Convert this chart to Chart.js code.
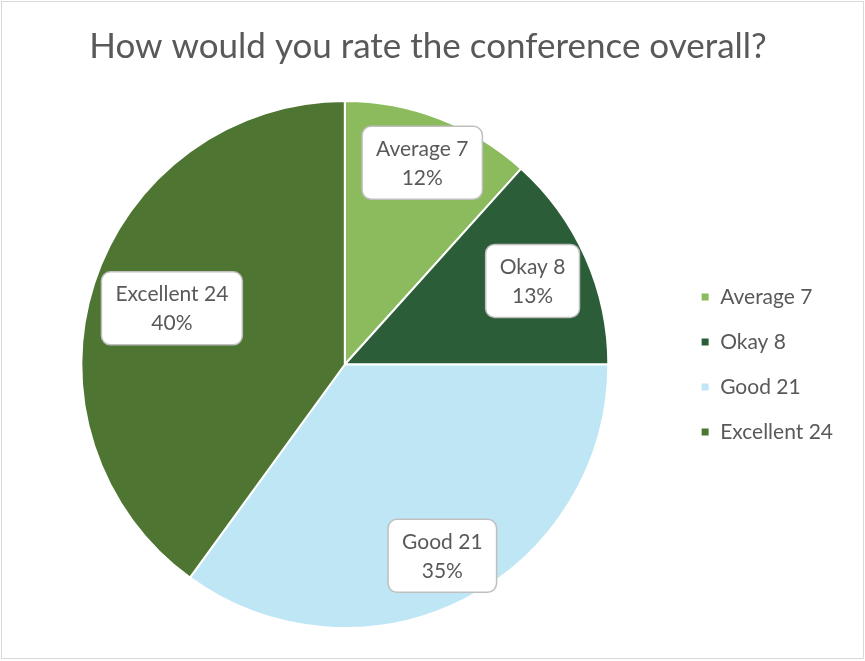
<!DOCTYPE html>
<html>
<head>
<meta charset="utf-8">
<script src="https://cdn.jsdelivr.net/npm/chart.js@4"></script>
<style>
  html, body { margin: 0; padding: 0; background: #fff; }
  #wrap { width: 865px; height: 661px; }
</style>
</head>
<body>
<div id="wrap"><canvas id="chart" width="865" height="661"></canvas></div>
<script>
// Survey answers
const ratings = ['Average', 'Okay', 'Good', 'Excellent'];
const responses = [7, 8, 21, 24];
const sliceColors = ['#8BBB5D', '#2B5E38', '#BFE6F4', '#4F7532'];

const TEXT_COLOR = '#595959';
const FONT = 'Lato, "Liberation Sans", sans-serif';

const total = responses.reduce((a, b) => a + b, 0);
const legendLabels = ratings.map((r, i) => r + ' ' + responses[i]);

// how far out (fraction of radius) each callout sits
const calloutRadius = [0.82, 0.78, 0.815, 0.69];

// rounded white callouts with name, count and share
const calloutPlugin = {
    id: 'callouts',
    afterDatasetsDraw(chart) {
        const ctx = chart.ctx;
        const arcs = chart.getDatasetMeta(0).data;
        ctx.save();
        ctx.font = '21px ' + FONT;
        ctx.textAlign = 'center';
        ctx.textBaseline = 'middle';
        arcs.forEach((arc, i) => {
            const mid = (arc.startAngle + arc.endAngle) / 2;
            const r = arc.outerRadius * calloutRadius[i];
            const cx = arc.x + Math.cos(mid) * r;
            const cy = arc.y + Math.sin(mid) * r;
            const line1 = legendLabels[i];
            const line2 = Math.round(responses[i] / total * 100) + '%';
            const w = Math.max(ctx.measureText(line1).width, ctx.measureText(line2).width) + 28;
            const h = 73;
            ctx.beginPath();
            ctx.roundRect(cx - w / 2, cy - h / 2, w, h, 9);
            ctx.fillStyle = '#FFFFFF';
            ctx.fill();
            ctx.lineWidth = 1.5;
            ctx.strokeStyle = '#BFBFBF';
            ctx.stroke();
            ctx.fillStyle = TEXT_COLOR;
            ctx.fillText(line1, cx, cy - 14);
            ctx.fillText(line2, cx, cy + 15);
        });
        ctx.restore();
    }
};

// thin grey frame around the chart
const framePlugin = {
    id: 'frame',
    afterDraw(chart) {
        const ctx = chart.ctx;
        ctx.save();
        ctx.strokeStyle = '#D9D9D9';
        ctx.lineWidth = 1;
        ctx.strokeRect(1.5, 1.5, chart.width - 3, chart.height - 4);
        ctx.restore();
    }
};

new Chart(document.getElementById('chart').getContext('2d'), {
    type: 'pie',
    data: {
        labels: legendLabels,
        datasets: [{
            data: responses,
            backgroundColor: sliceColors,
            borderColor: '#FFFFFF',
            borderWidth: 2
        }]
    },
    options: {
        responsive: false,
        animation: false,
        layout: { padding: { left: 13, right: 22, top: 0, bottom: 32 } },
        plugins: {
            title: {
                display: true,
                text: 'How would you rate the conference overall?',
                color: TEXT_COLOR,
                font: { family: FONT, size: 35, weight: 'normal' },
                padding: { top: 26, bottom: 32 }
            },
            legend: {
                position: 'right',
                fullSize: false,
                labels: {
                    color: TEXT_COLOR,
                    font: { family: FONT, size: 21 },
                    boxWidth: 9,
                    boxHeight: 9,
                    padding: 24
                }
            },
            tooltip: { enabled: false }
        }
    },
    plugins: [calloutPlugin, framePlugin]
});
</script>
</body>
</html>
